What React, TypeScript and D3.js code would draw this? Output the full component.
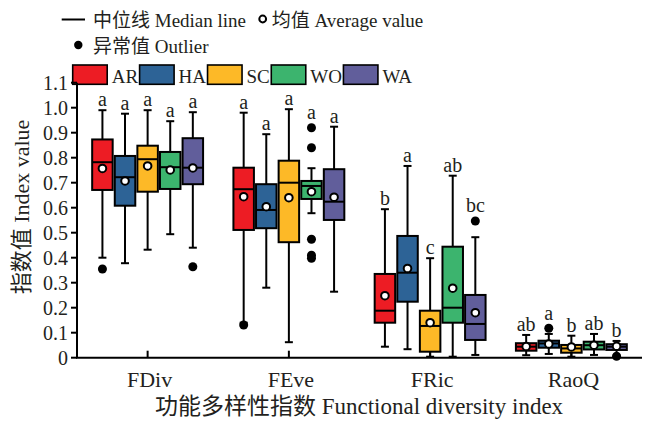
import React from "react";
import * as d3 from "d3";

const categories = ["FDiv", "FEve", "FRic", "RaoQ"];
const groups = ["AR", "HA", "SC", "WO", "WA"];
const groupColors = ["#ED1C24", "#2D6396", "#FDB927", "#3CB46E", "#615E9B"];

// rows: categories, cols: groups
const whiskerHigh = [
  [0.99, 0.976, 0.99, 0.946, 0.982],
  [0.98, 0.894, 0.994, 0.758, 0.924],
  [0.594, 0.767, 0.398, 0.728, 0.482],
  [0.091, 0.095, 0.088, 0.095, 0.067],
];
const q3 = [
  [0.873, 0.807, 0.848, 0.823, 0.878],
  [0.76, 0.694, 0.788, 0.707, 0.754],
  [0.335, 0.487, 0.188, 0.444, 0.251],
  [0.058, 0.068, 0.051, 0.064, 0.054],
];
const median = [
  [0.782, 0.722, 0.794, 0.762, 0.76],
  [0.674, 0.591, 0.7, 0.687, 0.624],
  [0.188, 0.34, 0.127, 0.2, 0.135],
  [0.044, 0.057, 0.037, 0.05, 0.044],
];
const mean = [
  [0.757, 0.707, 0.767, 0.751, 0.759],
  [0.644, 0.604, 0.64, 0.664, 0.642],
  [0.248, 0.357, 0.14, 0.278, 0.18],
  [0.045, 0.055, 0.043, 0.05, 0.046],
];
const q1 = [
  [0.671, 0.608, 0.664, 0.675, 0.694],
  [0.511, 0.518, 0.462, 0.635, 0.551],
  [0.14, 0.224, 0.024, 0.14, 0.071],
  [0.028, 0.04, 0.02, 0.033, 0.031],
];
const whiskerLow = [
  [0.4, 0.378, 0.432, 0.494, 0.44],
  [0.14, 0.28, 0.062, 0.578, 0.264],
  [0.044, 0.034, 0.004, 0.004, 0.011],
  [0.01, 0.015, 0.004, 0.011, 0.008],
];
// [categoryIndex, groupIndex, value]
const outliers: [number, number, number][] = [
  [0, 0, 0.355],
  [0, 4, 0.364],
  [1, 0, 0.131],
  [1, 3, 0.92],
  [1, 3, 0.84],
  [1, 3, 0.474],
  [1, 3, 0.41],
  [1, 3, 0.398],
  [2, 4, 0.547],
  [3, 1, 0.118],
  [3, 4, 0.006],
];
const letters = [
  ["a", "a", "a", "a", "a"],
  ["a", "a", "a", "a", "a"],
  ["b", "a", "c", "ab", "bc"],
  ["ab", "a", "b", "ab", "b"],
];
const yTicks = [0, 0.1, 0.2, 0.3, 0.4, 0.5, 0.6, 0.7, 0.8, 0.9, 1.0, 1.1];

const FONT = "'Liberation Serif', 'Times New Roman', 'Noto Sans CJK SC', serif";
const TEXT = "#231f20";

function textWidth(s: string, size: number) {
  const c = document.createElement("canvas");
  const ctx = c.getContext("2d");
  if (!ctx) return s.length * size * 0.6;
  ctx.font = `${size}px ${FONT}`;
  return ctx.measureText(s).width;
}

export default function App() {
  const W = 646,
    H = 421;
  const x = d3.scaleBand().domain(categories).range([77, 642]).padding(0);
  const inner = d3.scalePoint().domain(groups).range([-45.2, 45.2]);
  const y = d3.scaleLinear().domain([0, 1.1]).range([357.7, 82.7]);
  const boxW = 20.5;
  const capW = 8;
  const fs = 19;

  const boxes: React.ReactNode[] = [];
  categories.forEach((cat, ci) => {
    groups.forEach((g, gi) => {
      const cx = (x(cat) as number) + x.bandwidth() / 2 + (inner(g) as number);
      const outs = outliers.filter((o) => o[0] === ci && o[1] === gi).map((o) => o[2]);
      const topVal = Math.max(whiskerHigh[ci][gi], ...outs);
      const topY = y(topVal) - (outs.length && Math.max(...outs) >= whiskerHigh[ci][gi] ? 4.5 : 0);
      boxes.push(
        <g key={`${ci}-${gi}`}>
          <line x1={cx} x2={cx} y1={y(whiskerHigh[ci][gi])} y2={y(q3[ci][gi])} stroke="#000" strokeWidth={2} />
          <line x1={cx} x2={cx} y1={y(q1[ci][gi])} y2={y(whiskerLow[ci][gi])} stroke="#000" strokeWidth={2} />
          <line x1={cx - capW / 2} x2={cx + capW / 2} y1={y(whiskerHigh[ci][gi])} y2={y(whiskerHigh[ci][gi])} stroke="#000" strokeWidth={2} />
          <line x1={cx - capW / 2} x2={cx + capW / 2} y1={y(whiskerLow[ci][gi])} y2={y(whiskerLow[ci][gi])} stroke="#000" strokeWidth={2} />
          <rect
            x={cx - boxW / 2}
            y={y(q3[ci][gi])}
            width={boxW}
            height={y(q1[ci][gi]) - y(q3[ci][gi])}
            fill={groupColors[gi]}
            stroke="#000"
            strokeWidth={2}
          />
          <line x1={cx - boxW / 2} x2={cx + boxW / 2} y1={y(median[ci][gi])} y2={y(median[ci][gi])} stroke="#000" strokeWidth={2} />
          <circle cx={cx} cy={y(mean[ci][gi])} r={3.8} fill="#fff" stroke="#000" strokeWidth={2} />
          {outs.map((v, k) => (
            <circle key={k} cx={cx} cy={y(v)} r={4.5} fill="#000" />
          ))}
          <text x={cx} y={topY - 4} textAnchor="middle" fontSize={20} fill={TEXT}>
            {letters[ci][gi]}
          </text>
        </g>
      );
    });
  });

  // legend layout for group boxes
  let lx = 72.7;
  const legendItems = groups.map((g, gi) => {
    const rx = lx;
    const tx = rx + 39;
    lx = tx + textWidth(g, fs) + 1.5;
    return (
      <g key={g}>
        <rect x={rx} y={65} width={34.5} height={19.3} fill={groupColors[gi]} stroke="#000" strokeWidth={1.6} />
        <text x={tx} y={83} fontSize={fs} fill={TEXT}>
          {g}
        </text>
      </g>
    );
  });

  return (
    <svg width={W} height={H} style={{ position: "absolute", left: 0, top: 0 }} fontFamily={FONT}>
      <rect width={W} height={H} fill="#fff" />
      {/* legend */}
      <line x1={61.7} x2={85} y1={19.5} y2={19.5} stroke="#000" strokeWidth={2} />
      <text x={93} y={27} fontSize={fs} fill={TEXT}>
        中位线 Median line
      </text>
      <circle cx={262.7} cy={19} r={3.4} fill="#fff" stroke="#000" strokeWidth={2} />
      <text x={271.7} y={27} fontSize={fs} fill={TEXT}>
        均值 Average value
      </text>
      <circle cx={78.3} cy={45} r={4.2} fill="#000" />
      <text x={93} y={53} fontSize={fs} fill={TEXT}>
        异常值 Outlier
      </text>
      {legendItems}

      {/* y axis */}
      <line x1={77} x2={77} y1={y(1.1)} y2={y(0)} stroke="#000" strokeWidth={2} />
      {yTicks.map((t) => (
        <g key={t}>
          <line x1={71} x2={77} y1={y(t)} y2={y(t)} stroke="#000" strokeWidth={2} />
          <text x={68} y={y(t)} dy="0.34em" textAnchor="end" fontSize={20} fill={TEXT}>
            {t === 0 ? "0" : d3.format(".1f")(t)}
          </text>
        </g>
      ))}
      <text transform={`translate(29,207) rotate(-90)`} textAnchor="middle" fontSize={22} fill={TEXT}>
        指数值 Index value
      </text>

      {/* x axis */}
      <line x1={76} x2={642} y1={y(0)} y2={y(0)} stroke="#000" strokeWidth={2} />
      {categories.map((c) => {
        const cx = (x(c) as number) + x.bandwidth() / 2;
        return (
          <g key={c}>
            <line x1={cx} x2={cx} y1={y(0)} y2={y(0) - 7} stroke="#000" strokeWidth={2} />
            <text x={cx + 2} y={387} textAnchor="middle" fontSize={22} fill={TEXT}>
              {c}
            </text>
          </g>
        );
      })}
      <text x={359} y={414} textAnchor="middle" fontSize={23} fill={TEXT}>
        功能多样性指数 Functional diversity index
      </text>

      {boxes}
    </svg>
  );
}
